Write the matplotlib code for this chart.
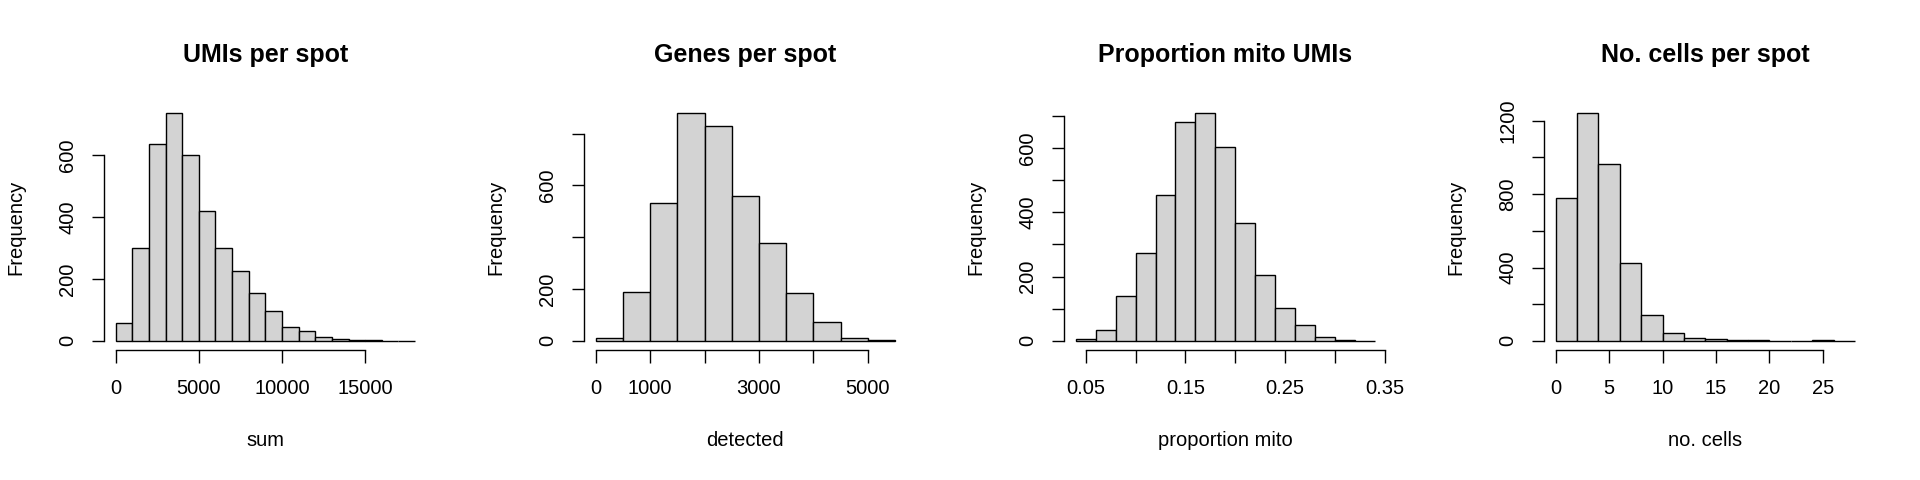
import numpy as np
import matplotlib
matplotlib.use("Agg")
import matplotlib.pyplot as plt

plt.rcParams['font.family'] = ['Liberation Sans', 'DejaVu Sans']

# counts per bin
umi_edges = np.arange(0, 19000, 1000)
umi_counts = [58, 301, 637, 736, 601, 420, 301, 227, 155, 95, 45, 32, 13, 6, 2, 2, 1, 1]

gene_edges = np.arange(0, 6000, 500)
gene_counts = [10, 188, 531, 879, 829, 559, 378, 186, 73, 10, 5]

mito_edges = np.linspace(0.04, 0.34, 16)
mito_counts = [6, 35, 141, 273, 452, 681, 708, 604, 367, 206, 102, 48, 13, 3, 1]

cell_edges = np.arange(0, 30, 2)
cell_counts = [777, 1242, 962, 425, 140, 41, 15, 10, 3, 4, 2, 1, 3, 1]

titles = ['UMIs per spot', 'Genes per spot', 'Proportion mito UMIs', 'No. cells per spot']
xlabels = ['sum', 'detected', 'proportion mito', 'no. cells']

xticks = [
    ([0, 5000, 10000, 15000], ['0', '5000', '10000', '15000']),
    ([0, 1000, 2000, 3000, 4000, 5000], ['0', '1000', '', '3000', '', '5000']),
    ([0.05, 0.10, 0.15, 0.20, 0.25, 0.30, 0.35], ['0.05', '', '0.15', '', '0.25', '', '0.35']),
    ([0, 5, 10, 15, 20, 25], ['0', '5', '10', '15', '20', '25']),
]
yticks = [
    ([0, 200, 400, 600], ['0', '200', '400', '600']),
    ([0, 200, 400, 600, 800], ['0', '200', '', '600', '']),
    ([0, 100, 200, 300, 400, 500, 600, 700], ['0', '', '200', '', '400', '', '600', '']),
    ([0, 200, 400, 600, 800, 1000, 1200], ['0', '', '400', '', '800', '', '1200']),
]

data = [(umi_edges, umi_counts), (gene_edges, gene_counts),
        (mito_edges, mito_counts), (cell_edges, cell_counts)]

fig = plt.figure(figsize=(19.2, 4.8), dpi=100)

lw = 1.0
for i, (edges, counts) in enumerate(data):
    ax = fig.add_axes([(103.7 + 480 * i) / 1920, 130 / 480, 323.3 / 1920, 246 / 480])
    edges = np.asarray(edges, dtype=float)
    ax.bar(edges[:-1], counts, width=np.diff(edges), align='edge',
           color='#d3d3d3', edgecolor='black', linewidth=lw)
    xr = edges[-1] - edges[0]
    ax.set_xlim(edges[0] - 0.04 * xr, edges[-1] + 0.04 * xr)
    ymax = max(counts)
    ax.set_ylim(-0.04 * ymax, 1.04 * ymax)

    for s in ['top', 'right']:
        ax.spines[s].set_visible(False)
    for s in ['left', 'bottom']:
        ax.spines[s].set_linewidth(lw)
    xt, xl = xticks[i]
    yt, yl = yticks[i]
    ax.spines['bottom'].set_bounds(xt[0], xt[-1])
    ax.spines['left'].set_bounds(yt[0], yt[-1])
    ax.set_xticks(xt)
    ax.set_xticklabels(xl)
    ax.set_yticks(yt)
    ax.set_yticklabels(yl, rotation=90, va='center')
    ax.tick_params(direction='out', length=9, width=lw, labelsize=14.5, pad=12)
    ax.tick_params(axis='y', pad=10)

    ax.text(0.5, 1.2, titles[i], transform=ax.transAxes, ha='center', va='center',
            fontsize=18, fontweight='bold')
    ax.text(0.5, -0.369, xlabels[i], transform=ax.transAxes, ha='center', va='center',
            fontsize=14.5)
    ax.text(-0.272, 0.5, 'Frequency', transform=ax.transAxes, ha='center', va='center',
            rotation=90, fontsize=14.5)

fig.savefig('out.png', dpi=100)
